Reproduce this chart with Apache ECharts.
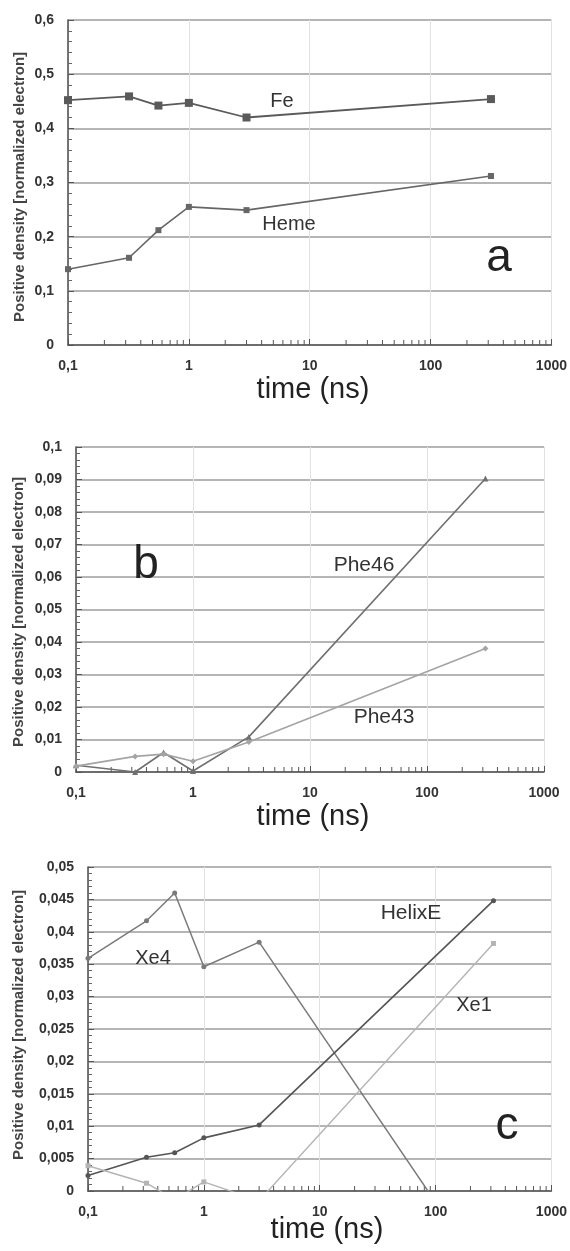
<!DOCTYPE html>
<html>
<head>
<meta charset="utf-8">
<script src="https://cdn.jsdelivr.net/npm/echarts@6/dist/echarts.min.js"></script>
<style>
  html, body { margin: 0; padding: 0; background: #ffffff; }
  #chart { width: 570px; height: 1251px; }
</style>
</head>
<body>
<div id="chart"></div>
<script>
// ---- data (time in ns) ----
const timeA = [0.1, 0.32, 0.56, 1, 3, 316];
const fe    = [0.452, 0.459, 0.442, 0.447, 0.420, 0.454];
const heme  = [0.140, 0.161, 0.212, 0.255, 0.249, 0.312];

const timeB = [0.1, 0.32, 0.56, 1, 3, 316];
const phe46 = [0.0021, 0.0000, 0.0060, 0.0003, 0.0108, 0.0903];
const phe43 = [0.0018, 0.0048, 0.0055, 0.0033, 0.0092, 0.0380];

const timeC  = [0.1, 0.32, 0.56, 1, 3, 316];
const helixE = [0.0024, 0.0052, 0.0059, 0.0082, 0.0102, 0.0448];
const xe4    = [0.0359, 0.0417, 0.0460, 0.0346, 0.0384, -0.0149];
const xe1    = [0.0039, 0.0012, -0.0013, 0.0014, -0.0015, 0.0382];

const xTickLabels = ['0,1', '1', '10', '100', '1000'];
const minorX = [];
[0.1, 1, 10, 100].forEach(d => { for (let k = 2; k <= 9; k++) minorX.push(+(d * k).toPrecision(6)); });

const FONT = '"Liberation Sans", Arial, Helvetica, sans-serif';

function pairs(xs, ys) { return xs.map((x, i) => [x, ys[i]]); }

function fmtY(v) { return String(+(+v).toPrecision(6)).replace('.', ','); }
function fmtX(v) {
  const e = Math.round(Math.log10(v));
  return xTickLabels[e + 1] !== undefined ? xTickLabels[e + 1] : String(v);
}

function xAxisDef(gi) {
  return {
    type: 'log', logBase: 10, gridIndex: gi, min: 0.1, max: 1000,
    axisLine: { show: true, onZero: false, lineStyle: { color: '#555', width: 1.6 } },
    axisTick: { show: true, inside: true, length: 6, lineStyle: { color: '#555', width: 1 } },
    axisLabel: { show: true, margin: 14, color: '#333', fontWeight: 'bold', fontSize: 14, fontFamily: FONT,
                 formatter: fmtX, showMinLabel: true, showMaxLabel: true },
    splitLine: { show: true, lineStyle: { color: '#e2e2e2', width: 1 } },
    minorTick: { show: false }, minorSplitLine: { show: false }
  };
}
function yAxisDef(gi, max, interval) {
  return {
    type: 'value', gridIndex: gi, min: 0, max: max, interval: interval,
    axisLine: { show: true, lineStyle: { color: '#555', width: 1.6 } },
    axisTick: { show: true, inside: true, length: 6, lineStyle: { color: '#555', width: 1 } },
    minorTick: { show: true, splitNumber: 5, length: 4, lineStyle: { color: '#666', width: 1 } },
    axisLabel: { show: true, margin: 14, color: '#333', fontWeight: 'bold', fontSize: 14, fontFamily: FONT,
                 formatter: fmtY, showMinLabel: true, showMaxLabel: true },
    splitLine: { show: true, lineStyle: { color: '#9c9c9c', width: 1.5 } }
  };
}
function lineSeries(gi, data, color, symbol, size, lw) {
  return {
    type: 'line', xAxisIndex: gi, yAxisIndex: gi, data: data, clip: true,
    symbol: symbol, symbolSize: size, showSymbol: true,
    lineStyle: { color: color, width: lw || 1.6 },
    itemStyle: { color: color },
    emphasis: { disabled: true }, animation: false
  };
}
function minorTickSeries(gi) {
  return {
    type: 'custom', xAxisIndex: gi, yAxisIndex: gi, silent: true, animation: false, clip: false,
    data: minorX.map(v => [v, 0]),
    encode: { x: 0, y: 1 },
    renderItem: function (params, api) {
      const p = api.coord([api.value(0), 0]);
      return { type: 'line', shape: { x1: p[0], y1: p[1], x2: p[0], y2: p[1] - 5 },
               style: { stroke: '#555', lineWidth: 1 } };
    }
  };
}
function txt(x, y, s, size, opts) {
  opts = opts || {};
  return {
    type: 'text', x: x, y: y, rotation: opts.rot || 0, silent: true, z: 10,
    style: { text: s, fontSize: size, fontFamily: FONT, fontWeight: opts.bold ? 'bold' : 'normal',
             fill: opts.color || '#222', textAlign: 'center', textVerticalAlign: 'middle' }
  };
}

const chart = echarts.init(document.getElementById('chart'), null, { renderer: 'canvas' });
const yTitle = 'Positive density [normalized electron]';
chart.setOption({
  backgroundColor: '#ffffff',
  animation: false,
  grid: [
    { left: 68, top: 20, width: 485, height: 325 },
    { left: 76, top: 447, width: 468, height: 325 },
    { left: 88, top: 867, width: 465, height: 324 }
  ],
  xAxis: [xAxisDef(0), xAxisDef(1), xAxisDef(2)],
  yAxis: [yAxisDef(0, 0.6, 0.1), yAxisDef(1, 0.1, 0.01), yAxisDef(2, 0.05, 0.005)],
  series: [
    lineSeries(0, pairs(timeA, fe), '#5a5a5a', 'rect', 8, 1.8),
    lineSeries(0, pairs(timeA, heme), '#666666', 'rect', 6, 1.6),
    lineSeries(1, pairs(timeB, phe46), '#707070', 'triangle', 6, 1.6),
    lineSeries(1, pairs(timeB, phe43), '#a4a4a4', 'diamond', 6, 1.6),
    lineSeries(2, pairs(timeC, xe4), '#7a7a7a', 'circle', 5, 1.5),
    lineSeries(2, pairs(timeC, helixE), '#555555', 'circle', 5, 1.6),
    lineSeries(2, pairs(timeC, xe1), '#b4b4b4', 'rect', 5, 1.4),
    minorTickSeries(0), minorTickSeries(1), minorTickSeries(2)
  ],
  graphic: [
    txt(20, 187, yTitle, 15, { rot: Math.PI / 2, bold: true, color: '#444' }),
    txt(19, 612, yTitle, 15, { rot: Math.PI / 2, bold: true, color: '#444' }),
    txt(19, 1025, yTitle, 15, { rot: Math.PI / 2, bold: true, color: '#444' }),
    txt(313, 390, 'time (ns)', 29),
    txt(313, 817, 'time (ns)', 29),
    txt(327, 1230, 'time (ns)', 29),
    txt(282, 101, 'Fe', 20, { color: '#333' }),
    txt(289, 224, 'Heme', 20, { color: '#333' }),
    txt(364, 565, 'Phe46', 21, { color: '#333' }),
    txt(384, 717, 'Phe43', 21, { color: '#333' }),
    txt(153, 958, 'Xe4', 20, { color: '#333' }),
    txt(411, 913, 'HelixE', 21, { color: '#333' }),
    txt(474, 1005, 'Xe1', 20, { color: '#333' }),
    txt(499, 258, 'a', 46),
    txt(146, 565, 'b', 46),
    txt(507, 1126, 'c', 46)
  ]
});
</script>
</body>
</html>
